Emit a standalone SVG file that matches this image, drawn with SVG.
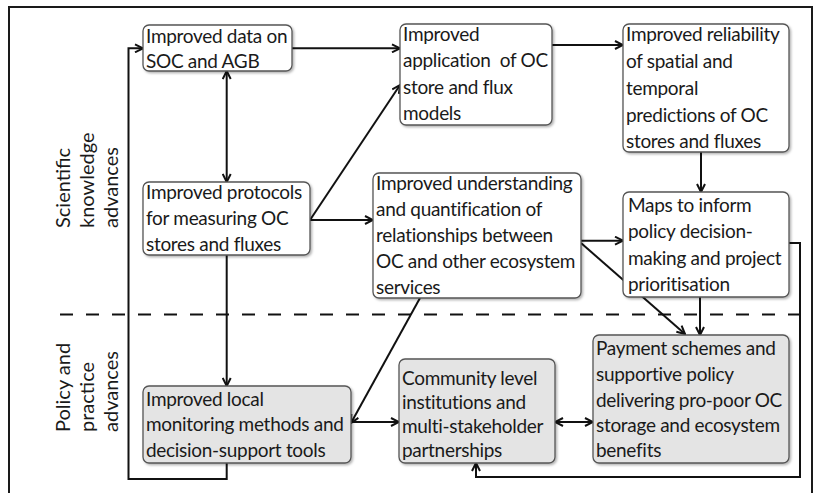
<svg xmlns="http://www.w3.org/2000/svg" width="817" height="493" viewBox="0 0 817 493">
  <style>
    .frame { fill: none; stroke: #1a1a1a; stroke-width: 2; }
    .box { stroke: #555; stroke-width: 1.3; filter: url(#shadow); }
    .sci { fill: #ffffff; }
    .pol { fill: #e4e4e4; }
    .lbl { font-family: Lato, "Liberation Sans", sans-serif; font-size: 19px; letter-spacing: -0.3px; fill: #1a1a1a; white-space: pre; }
    .side { font-family: Lato, "Liberation Sans", sans-serif; font-size: 20px; fill: #1a1a1a; }
    .conn path { fill: none; stroke: #111; stroke-width: 2; }
    .divider { fill: none; stroke: #111; stroke-width: 2.2; stroke-dasharray: 13 13; }
  </style>
  <defs>
    <filter id="shadow" x="-10%" y="-10%" width="125%" height="130%">
      <feDropShadow dx="1.5" dy="1.5" stdDeviation="1.2" flood-color="#000" flood-opacity="0.3"/>
    </filter>
    <marker id="arrow" viewBox="0 0 10 10" refX="9" refY="5" markerWidth="10" markerHeight="10" markerUnits="userSpaceOnUse" orient="auto-start-reverse">
      <path d="M1,1 L9,5 L1,9" fill="none" stroke="#111" stroke-width="2"/>
    </marker>
  </defs>

  <rect class="frame" x="9" y="7" width="803" height="500"/>

  <!-- side labels -->
  <text class="side" transform="translate(70,228) rotate(-90)">Scientific</text>
  <text class="side" transform="translate(94,228) rotate(-90)">knowledge</text>
  <text class="side" transform="translate(118,228) rotate(-90)">advances</text>
  <text class="side" transform="translate(70,432) rotate(-90)">Policy and</text>
  <text class="side" transform="translate(94,432) rotate(-90)">practice</text>
  <text class="side" transform="translate(118,432) rotate(-90)">advances</text>

  <!-- boundary between the two bands -->
  <path class="divider" d="M60,314.5 H810"/>

  <!-- connectors -->
  <g id="connectors" class="conn">
    <path d="M292,48.3 H400" marker-end="url(#arrow)"/>
    <path d="M226.7,71 V182" marker-start="url(#arrow)" marker-end="url(#arrow)"/>
    <path d="M310,220 L400,85" marker-end="url(#arrow)"/>
    <path d="M310,220 H373" marker-end="url(#arrow)"/>
    <path d="M552,45 H623" marker-end="url(#arrow)"/>
    <path d="M701,152 V192" marker-end="url(#arrow)"/>
    <path d="M581,240.7 H623" marker-end="url(#arrow)"/>
    <path d="M581,243 L685,334" marker-end="url(#arrow)"/>
    <path d="M700,297 V335" marker-end="url(#arrow)"/>
    <path d="M420,298 L351,423" marker-end="url(#arrow)"/>
    <path d="M226.7,255 V386" marker-end="url(#arrow)"/>
    <path d="M351,422 H399" marker-end="url(#arrow)"/>
    <path d="M555,422 H593" marker-start="url(#arrow)" marker-end="url(#arrow)"/>
    <path d="M226.7,463 V479 H128.5 V48.3 H143" marker-end="url(#arrow)"/>
    <path d="M789,243 H800 V477 H476 V463" marker-end="url(#arrow)"/>
  </g>

  <g id="n-data">
    <rect class="box sci" x="143" y="25" width="149" height="46" rx="6"/>
    <text class="lbl"><tspan x="146" y="43">Improved data on</tspan><tspan x="146" y="68">SOC and AGB</tspan></text>
  </g>
  <g id="n-models">
    <rect class="box sci" x="400" y="24" width="152" height="101" rx="6"/>
    <text class="lbl"><tspan x="403" y="41">Improved</tspan><tspan x="403" y="67">application  of OC</tspan><tspan x="403" y="94">store and flux</tspan><tspan x="403" y="120">models</tspan></text>
  </g>
  <g id="n-reliability">
    <rect class="box sci" x="623" y="24" width="166" height="128" rx="6"/>
    <text class="lbl"><tspan x="626" y="41">Improved reliability</tspan><tspan x="626" y="68">of spatial and</tspan><tspan x="626" y="95">temporal</tspan><tspan x="626" y="122">predictions of OC</tspan><tspan x="626" y="148">stores and fluxes</tspan></text>
  </g>
  <g id="n-protocols">
    <rect class="box sci" x="143" y="182" width="167" height="73" rx="6"/>
    <text class="lbl"><tspan x="146" y="199">Improved protocols</tspan><tspan x="146" y="225">for measuring OC</tspan><tspan x="146" y="251">stores and fluxes</tspan></text>
  </g>
  <g id="n-understanding">
    <rect class="box sci" x="373" y="173" width="208" height="125" rx="6"/>
    <text class="lbl"><tspan x="376" y="190">Improved understanding</tspan><tspan x="376" y="216">and quantification of</tspan><tspan x="376" y="242">relationships between</tspan><tspan x="376" y="268">OC and other ecosystem</tspan><tspan x="376" y="294">services</tspan></text>
  </g>
  <g id="n-maps">
    <rect class="box sci" x="623" y="192" width="166" height="105" rx="6"/>
    <text class="lbl"><tspan x="628" y="212">Maps to inform</tspan><tspan x="628" y="238">policy decision-</tspan><tspan x="628" y="265">making and project</tspan><tspan x="628" y="291">prioritisation</tspan></text>
  </g>
  <g id="n-monitoring">
    <rect class="box pol" x="143" y="386" width="208" height="77" rx="6"/>
    <text class="lbl"><tspan x="146" y="406">Improved local</tspan><tspan x="146" y="431">monitoring methods and</tspan><tspan x="146" y="457">decision-support tools</tspan></text>
  </g>
  <g id="n-community">
    <rect class="box pol" x="399" y="359" width="156" height="104" rx="6"/>
    <text class="lbl"><tspan x="402" y="385">Community level</tspan><tspan x="402" y="409">institutions and</tspan><tspan x="402" y="433">multi-stakeholder</tspan><tspan x="402" y="457">partnerships</tspan></text>
  </g>
  <g id="n-payment">
    <rect class="box pol" x="593" y="335" width="196" height="128" rx="6"/>
    <text class="lbl"><tspan x="596" y="355">Payment schemes and</tspan><tspan x="596" y="381">supportive policy</tspan><tspan x="596" y="407">delivering pro-poor OC</tspan><tspan x="596" y="432">storage and ecosystem</tspan><tspan x="596" y="457">benefits</tspan></text>
  </g>
</svg>
